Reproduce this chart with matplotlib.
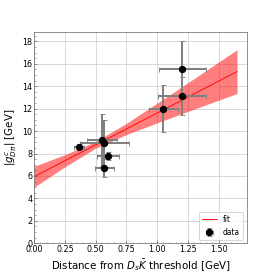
import matplotlib
matplotlib.use("Agg")
import matplotlib.pyplot as plt
import numpy as np

# data points
x_data = [0.363, 0.553, 0.570, 0.600, 0.570, 1.050, 1.204, 1.204]
y_data = [8.61, 9.21, 8.91, 7.78, 6.71, 12.00, 15.53, 13.13]
x_err = [0.040, 0.120, 0.200, 0.087, 0.075, 0.117, 0.190, 0.195]
y_err = [0.20, 2.30, 2.10, 0.40, 0.77, 2.10, 2.50, 1.70]

# fit line and band
fit_x = [0.0, 0.25, 0.5, 0.75, 1.0, 1.25, 1.5, 1.65]
fit_y = [5.94, 7.36, 8.78, 10.19, 11.61, 13.03, 14.45, 15.30]
fit_hw = [0.93, 0.54, 0.30, 0.50, 0.88, 1.28, 1.70, 1.95]

x_ticks = [0.0, 0.25, 0.5, 0.75, 1.0, 1.25, 1.5]
y_ticks = [0, 2, 4, 6, 8, 10, 12, 14, 16, 18]

fig = plt.figure(figsize=(274/72, 274/72), dpi=72)
ax = fig.add_subplot(111)
fig.subplots_adjust(left=0.125, right=0.90, bottom=0.112, top=0.882)

fx = np.array(fit_x); fy = np.array(fit_y); fh = np.array(fit_hw)
ax.fill_between(fx, fy - fh, fy + fh, color='red', alpha=0.5, lw=0)
ax.plot(fx, fy, color='red', lw=0.9, label='fit')
ax.errorbar(x_data, y_data, xerr=x_err, yerr=y_err, fmt='o', color='black',
            ecolor='gray', elinewidth=2.0, capsize=2.5, capthick=0.9,
            markersize=6.3, label='data', zorder=3)

ax.set_xlim(0, 1.728)
ax.set_ylim(0, 18.8)
ax.set_xticks(x_ticks)
ax.set_xticklabels([f"{t:.2f}" for t in x_ticks])
ax.set_yticks(y_ticks)
ax.minorticks_on()
ax.grid(True, which='major', color='#d0d0d0', lw=0.8)
ax.set_axisbelow(True)
for s in ax.spines.values():
    s.set_color('#777777')
ax.tick_params(which='both', direction='in', colors='#555555', labelcolor='black')
ax.tick_params(which='major', labelsize=8, length=3, width=0.6, pad=2)
ax.tick_params(which='minor', length=1.5, width=0.5)
ax.set_xlabel(r'Distance from $D_s\bar{K}$ threshold [GeV]', fontsize=10.3, labelpad=3)
ax.set_ylabel(r'$|g^c_{D\pi}|$ [GeV]', fontsize=10.3, labelpad=3)
ax.legend(loc='lower right', fontsize=7.5, handlelength=2.0)

fig.savefig('out.png', dpi=72)
